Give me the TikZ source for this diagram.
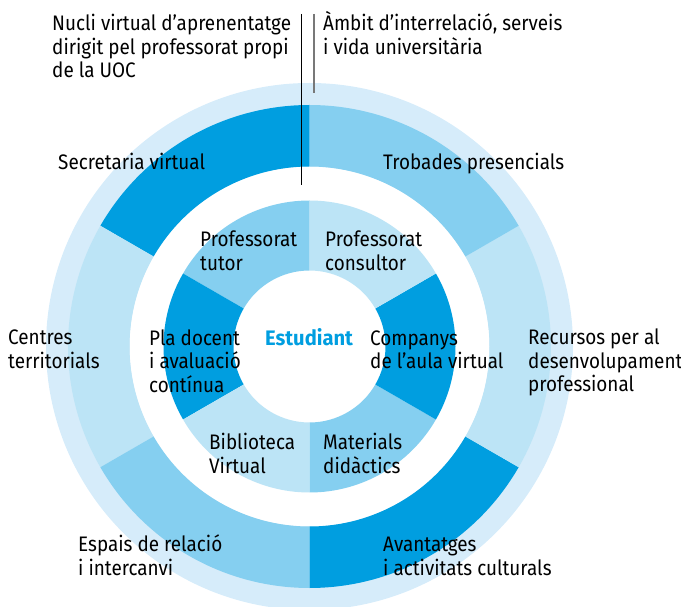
\documentclass[tikz,border=0pt]{standalone}
\usepackage{fontspec}
\setmainfont{Fira Sans}[FakeStretch=0.9]
\newfontfamily\widebold{Fira Sans}[FakeStretch=0.96]
\definecolor{dark}{RGB}{0,158,224}
\definecolor{medium}{RGB}{133,207,240}
\definecolor{light}{RGB}{188,228,246}
\definecolor{outer}{RGB}{214,236,250}
\definecolor{grayline}{RGB}{120,120,120}
\newcommand\ml[1]{\vtop{\baselineskip=23.5pt\lineskiplimit=-100pt\halign{##\hfil\cr#1\crcr}}}
\newcommand\sector[5]{\fill[#1] (#2:#4) arc[start angle=#2,end angle=#3,radius=#4] -- (#3:#5) arc[start angle=#3,end angle=#2,radius=#5] -- cycle;}
\begin{document}
\begin{tikzpicture}[x=1pt,y=1pt,
  lbl/.style={anchor=base west, inner sep=0pt, font=\fontsize{21}{23.5}\selectfont},
  blk/.style={line width=1pt, black},
  gry/.style={line width=1.5pt, grayline}]
\useasboundingbox (0,0) rectangle (681,606);
\coordinate (C) at (309.5,259.5);
\fill[outer] (C) circle[radius=263.5];
\fill[white] (C) circle[radius=180];
\begin{scope}[shift={(C)}]
  \sector{dark}{90}{150}{241.5}{180}
  \sector{light}{150}{210}{241.5}{180}
  \sector{medium}{210}{270}{241.5}{180}
  \sector{dark}{270}{330}{241.5}{180}
  \sector{light}{330}{390}{241.5}{180}
  \sector{medium}{30}{90}{241.5}{180}
  \sector{medium}{90}{150}{146}{76}
  \sector{dark}{150}{210}{146}{76}
  \sector{light}{210}{270}{146}{76}
  \sector{medium}{270}{330}{146}{76}
  \sector{dark}{330}{390}{146}{76}
  \sector{light}{30}{90}{146}{76}
\end{scope}
\coordinate (la) at (301,592);
\coordinate (lb) at (301,421);
\coordinate (ga) at (314,592);
\coordinate (gb) at (314,513);
\draw[blk] (la) -- (lb);
\draw[gry] (ga) -- (gb);
\node[lbl] (nucli) at (52,575) {\ml{Nucli virtual d’aprenentatge\cr dirigit pel professorat propi\cr de la UOC}};
\node[lbl] (ambit) at (323,575) {\ml{Àmbit d’interrelació, serveis\cr i vida universitària}};
\node[lbl] (secretaria) at (58,436.5) {Secretaria virtual};
\node[lbl] (trobades) at (383,436.5) {Trobades presencials};
\node[lbl] (centres) at (8,261) {\ml{Centres\cr territorials}};
\node[lbl] (recursos) at (528,261) {\ml{Recursos per al\cr desenvolupament\cr professional}};
\node[lbl] (espais) at (78,54) {\ml{Espais de relació\cr i intercanvi}};
\node[lbl] (avantatges) at (383,54) {\ml{Avantatges\cr i activitats culturals}};
\node[lbl] (tutor) at (200,359) {\ml{Professorat\cr tutor}};
\node[lbl] (consultor) at (325,359) {\ml{Professorat\cr consultor}};
\node[lbl] (pla) at (149,260.5) {\ml{Pla docent\cr i avaluació\cr contínua}};
\node[lbl, font=\fontsize{21}{23.5}\widebold\bfseries, text=dark] (estudiant) at (265,260) {Estudiant};
\node[lbl] (companys) at (370,260.5) {\ml{Companys\cr de l’aula virtual}};
\node[lbl] (biblioteca) at (209,156) {\ml{Biblioteca\cr Virtual}};
\node[lbl] (materials) at (323,156) {\ml{Materials\cr didàctics}};
\end{tikzpicture}
\end{document}
